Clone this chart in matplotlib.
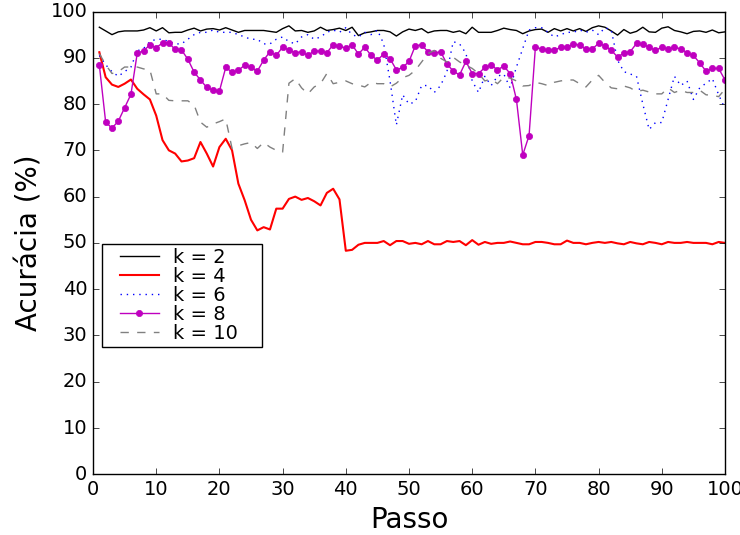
import numpy as np
import matplotlib
matplotlib.use('Agg')
import matplotlib.pyplot as plt
from matplotlib.lines import Line2D
from matplotlib.legend_handler import HandlerLine2D

passos = np.arange(1, 101)

k2 = [96.6, 95.8, 95.0, 95.6, 95.8, 95.8, 95.8, 96.0, 96.5, 95.8,
      96.5, 95.4, 95.5, 95.5, 96.0, 96.4, 95.8, 96.2, 96.3, 96.0,
      96.5, 96.0, 95.5, 95.9, 95.9, 95.9, 95.9, 95.7, 95.5, 96.3,
      96.9, 95.8, 95.9, 95.5, 95.8, 96.6, 95.9, 96.1, 96.4, 95.9,
      96.6, 94.8, 95.4, 95.6, 95.9, 95.9, 95.6, 94.7, 95.6, 96.2,
      95.9, 96.3, 95.4, 95.8, 95.9, 95.9, 95.5, 95.8, 95.2, 96.6,
      95.5, 95.5, 95.5, 95.9, 96.4, 96.1, 95.9, 95.2, 95.8, 96.1,
      96.2, 95.5, 96.3, 95.8, 96.3, 95.8, 96.3, 95.7, 96.5, 96.9,
      96.6, 95.8, 94.9, 96.1, 95.3, 95.7, 96.6, 95.6, 95.5, 96.4,
      96.7, 95.9, 95.6, 95.2, 95.7, 95.8, 95.5, 96.0, 95.4, 95.6]

k4 = [91.2, 85.8, 84.2, 83.7, 84.4, 85.3, 83.3, 82.1, 81.0, 77.5,
      72.2, 70.0, 69.3, 67.6, 67.8, 68.3, 71.8, 69.3, 66.5, 70.7,
      72.5, 70.0, 62.8, 59.2, 55.0, 52.7, 53.4, 52.9, 57.4, 57.4,
      59.5, 60.0, 59.3, 59.7, 59.0, 58.1, 60.8, 61.7, 59.4, 48.3,
      48.5, 49.6, 50.0, 50.0, 50.0, 50.4, 49.5, 50.4, 50.4, 49.8,
      50.0, 49.7, 50.4, 49.7, 49.7, 50.4, 50.2, 50.4, 49.5, 50.6,
      49.6, 50.2, 49.8, 50.0, 50.0, 50.3, 50.0, 49.7, 49.7, 50.2,
      50.2, 50.0, 49.7, 49.7, 50.5, 50.0, 50.0, 49.7, 50.0, 50.2,
      50.0, 50.2, 49.9, 49.7, 50.2, 49.9, 49.7, 50.2, 50.0, 49.7,
      50.2, 50.0, 50.0, 50.2, 50.0, 50.0, 50.0, 49.7, 50.2, 50.0]

k6 = [90.5, 88.5, 87.0, 86.0, 87.0, 88.0, 91.5, 92.0, 93.5, 94.0,
      94.0, 93.5, 93.0, 93.0, 94.0, 95.0, 95.5, 95.5, 96.0, 95.5,
      95.5, 95.5, 95.0, 94.5, 94.0, 94.0, 93.0, 93.0, 94.0, 94.5,
      93.5, 93.0, 94.5, 95.0, 94.0, 94.5, 95.5, 96.0, 95.5, 96.5,
      95.0, 94.5, 95.5, 95.0, 96.0, 93.0, 85.0, 75.5, 82.0, 80.0,
      80.5, 84.0, 84.0, 82.5, 84.0, 87.0, 93.5, 93.0, 91.0, 85.0,
      82.5, 86.0, 84.0, 86.0, 86.5, 83.5, 88.0, 92.0, 96.0, 96.5,
      96.5, 95.5, 94.5, 95.0, 95.5, 95.5, 96.0, 95.5, 96.0, 95.0,
      96.5, 96.0, 89.5, 87.0, 86.5, 86.0, 80.0, 74.5, 76.0, 76.0,
      81.0, 86.0, 84.0, 85.0, 81.0, 83.5, 84.5, 85.5, 82.0, 79.0]

k8 = [88.4, 76.1, 74.8, 76.3, 79.2, 82.1, 91.0, 91.5, 92.8, 92.2,
      93.2, 93.2, 91.8, 91.7, 89.7, 86.9, 85.2, 83.6, 83.0, 82.8,
      87.9, 86.9, 87.3, 88.4, 87.9, 87.1, 89.5, 91.3, 90.5, 92.3,
      91.7, 91.1, 91.3, 90.5, 91.5, 91.4, 91.1, 92.8, 92.5, 92.1,
      92.8, 90.8, 92.3, 90.5, 89.5, 90.8, 89.8, 87.4, 87.9, 89.2,
      92.6, 92.8, 91.3, 91.0, 91.3, 88.7, 87.1, 86.3, 89.2, 86.6,
      86.6, 87.9, 88.4, 87.4, 88.2, 86.6, 81.0, 69.0, 73.2, 92.3,
      91.9, 91.6, 91.6, 92.3, 92.3, 93.0, 92.7, 91.9, 91.9, 93.1,
      92.6, 91.6, 90.2, 91.0, 91.3, 93.1, 92.9, 92.3, 91.6, 92.3,
      91.9, 92.3, 91.9, 91.1, 90.5, 88.9, 87.1, 87.7, 87.7, 85.2]

k10 = [90.9, 88.5, 86.6, 87.0, 88.0, 88.0, 88.0, 87.6, 87.4, 82.2,
       82.2, 80.8, 80.7, 80.7, 80.7, 79.8, 76.1, 75.0, 75.7, 76.2,
       76.8, 70.4, 71.0, 71.4, 71.7, 70.4, 71.7, 70.7, 70.0, 69.6,
       84.5, 85.5, 83.5, 82.2, 83.7, 84.4, 86.6, 84.4, 84.7, 85.0,
       84.4, 84.1, 83.7, 84.7, 84.4, 84.4, 83.7, 84.5, 85.7, 86.2,
       87.3, 89.1, 90.9, 91.6, 89.9, 89.1, 90.1, 89.1, 88.4, 87.7,
       86.6, 85.0, 85.4, 84.4, 85.8, 85.6, 85.0, 83.9, 84.0, 84.7,
       84.4, 84.0, 84.7, 85.0, 85.2, 85.2, 84.4, 83.7, 85.2, 86.2,
       84.7, 83.5, 83.3, 83.9, 83.5, 82.7, 83.0, 82.6, 82.2, 82.2,
       83.5, 82.5, 83.0, 82.5, 82.5, 83.0, 82.0, 81.9, 81.6, 83.2]

plt.style.use('classic')
fig = plt.figure(figsize=(7.4, 5.35), dpi=100)
ax = fig.add_axes([0.1257, 0.1135, 0.854, 0.865])

ax.plot(passos, k2, '-', color='k', linewidth=1.0, label='k = 2')
ax.plot(passos, k4, '-', color='r', linewidth=1.5, label='k = 4')
ax.plot(passos, k6, linestyle=(0, (1, 3.5)), color='b', linewidth=1.0, label='k = 6')
ax.plot(passos, k8, 'o-', color='m', markeredgecolor='m', linewidth=1.0,
        markersize=4.5, label='k = 8')
ax.plot(passos, k10, '--', color='gray', linewidth=1.0, label='k = 10')

ax.set_xlim(0, 100)
ax.set_ylim(0, 100)
ax.set_xticks(range(0, 101, 10))
ax.set_yticks(range(0, 101, 10))
ax.tick_params(labelsize=14)
ax.set_xlabel('Passo', fontsize=20)
ax.set_ylabel('Acurácia (%)', fontsize=20)

# handles deslocados para a direita dentro da caixa da legenda
ax.legend(loc='upper left', bbox_to_anchor=(0.0142, 0.4976, 0.253, 0.0),
          mode='expand', borderaxespad=0, borderpad=0.2, numpoints=1,
          fontsize=14, labelspacing=0.0, handlelength=2.72, handletextpad=0.75,
          handler_map={Line2D: HandlerLine2D(xpad=0.72)})

fig.savefig('out.png', dpi=100)
